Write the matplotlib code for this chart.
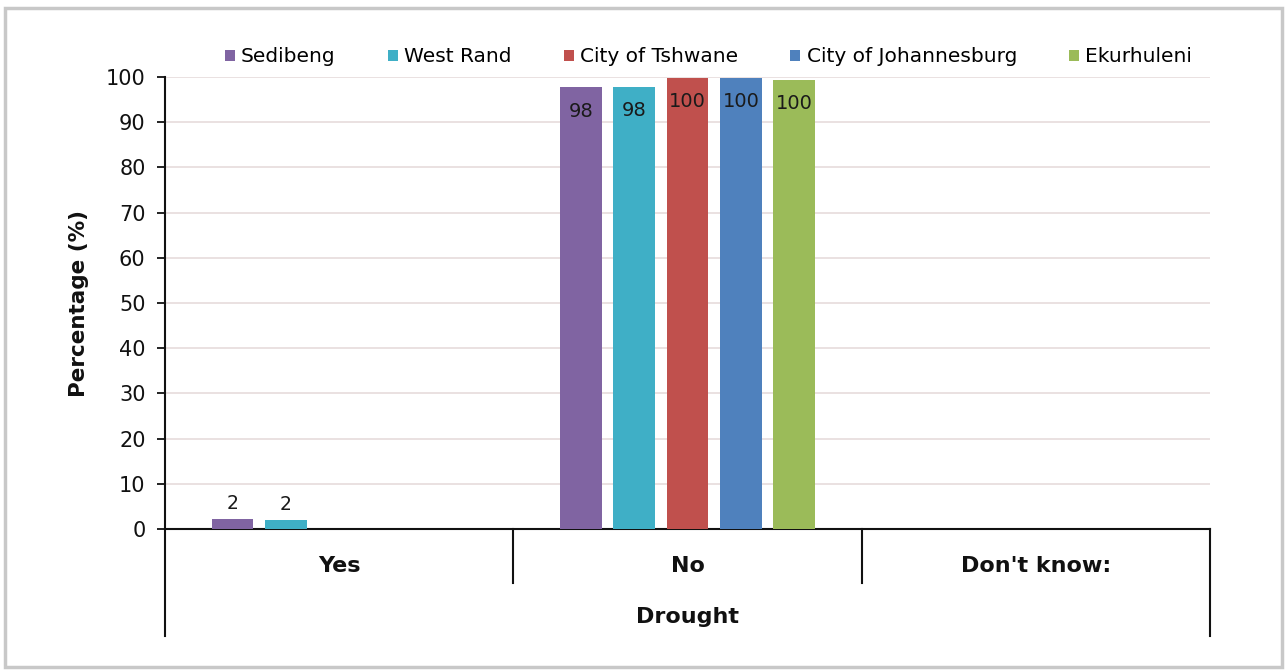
import numpy as np
import matplotlib
matplotlib.use('Agg')
import matplotlib.pyplot as plt
from matplotlib.patches import Rectangle

categories = ['Yes', 'No', "Don't know:"]
districts = ['Sedibeng', 'West Rand', 'City of Tshwane', 'City of Johannesburg', 'Ekurhuleni']
sedibeng = [2.3, 97.7, 0]
west_rand = [2.0, 97.9, 0]
tshwane = [0, 99.8, 0]
johannesburg = [0, 99.8, 0]
ekurhuleni = [0, 99.4, 0]
labels_shown = [[2, 98, None], [2, 98, None], [None, 100, None], [None, 100, None], [None, 100, None]]
colors = ['#8064A2', '#3FAFC6', '#C0504D', '#4F81BD', '#9BBB59']

series = [sedibeng, west_rand, tshwane, johannesburg, ekurhuleni]

fig = plt.figure(figsize=(12.87, 6.70), dpi=100)
ax = fig.add_axes([0.1282, 0.2104, 0.812, 0.6746])

# light grey frame round the whole picture
fig.patches.append(Rectangle((0.004, 0.005), 0.992, 0.983, transform=fig.transFigure,
                             fill=False, edgecolor='#C8C8C8', linewidth=2.5))

x = np.arange(len(categories)) + 0.5
slot = 0.153
width = 0.12
handles = []
for i, (vals, col) in enumerate(zip(series, colors)):
    pos = x + (i - 2) * slot
    bars = ax.bar(pos, vals, width=width, color=col, label=districts[i], zorder=3)
    handles.append(bars)
    for b, v, lab in zip(bars, vals, labels_shown[i]):
        if lab is None:
            continue
        cx = b.get_x() + b.get_width() / 2
        if v > 50:
            ax.annotate(str(lab), (cx, v), xytext=(0, -17), textcoords='offset points',
                        ha='center', va='center', fontsize=14, color='#1a1a1a', zorder=4)
        else:
            ax.annotate(str(lab), (cx, v), xytext=(0, 11), textcoords='offset points',
                        ha='center', va='center', fontsize=13.5, color='#1a1a1a', zorder=4)

ax.set_xlim(0, 3)
ax.set_ylim(0, 100)
ax.set_yticks(np.arange(0, 101, 10))
ax.tick_params(axis='y', direction='out', length=6, width=1.3, labelsize=15, pad=8, colors='#111111')
ax.set_xticks([])
ax.yaxis.grid(True, color='#E6DCDC', linewidth=1.2, zorder=0)
ax.set_axisbelow(True)

for s in ['top', 'right', 'left']:
    ax.spines[s].set_visible(False)
ax.spines['bottom'].set_linewidth(1.5)
ax.spines['bottom'].set_color('#111111')

tr = ax.get_xaxis_transform()
ax.plot([0, 0], [1, -0.2367], transform=tr, color='#111111', lw=1.5, clip_on=False, zorder=5)
ax.plot([3, 3], [0, -0.2367], transform=tr, color='#111111', lw=1.5, clip_on=False)
for sep in [1, 2]:
    ax.plot([sep, sep], [0, -0.1195], transform=tr, color='#111111', lw=1.5, clip_on=False)

for xc, cat in zip(x, categories):
    ax.text(xc, -0.082, cat, transform=tr, ha='center', va='center',
            fontsize=16, fontweight='bold', color='#111111')
ax.text(1.5, -0.195, 'Drought', transform=tr, ha='center', va='center',
        fontsize=16, fontweight='bold', color='#111111')

ax.set_ylabel('Percentage (%)', fontsize=15.5, fontweight='bold', color='#111111', labelpad=12)

fig.legend(handles=handles, labels=districts, loc='center', bbox_to_anchor=(0.5505, 0.915),
           ncol=5, frameon=False, fontsize=14.5, handlelength=0.5, handleheight=0.5,
           handletextpad=0.3, columnspacing=2.6)

plt.savefig('out.png', dpi=100)
